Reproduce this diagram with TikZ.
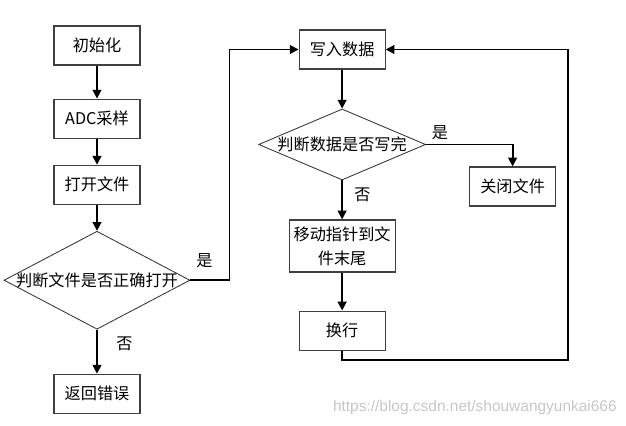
\documentclass[tikz,border=0pt]{standalone}
\usepackage{fontspec}
\setmainfont{Noto Sans CJK SC}
\newfontfamily\wmfont{Liberation Sans}
\usetikzlibrary{positioning,calc,arrows.meta,shapes.geometric}

\begin{document}
\begin{tikzpicture}[
        font=\fontsize{11.5}{17}\selectfont,
        >={Triangle[length=2.2mm,width=2.2mm]},
        box/.style={draw=black!75, line width=0.8pt, align=center, minimum width=21.5mm, minimum height=9.75mm, inner sep=1mm},
        cond/.style={draw=black!80, line width=0.6pt, diamond, inner xsep=-1.5mm, inner ysep=0pt, align=center},
        flow/.style={->, line width=1.3pt},
        lab/.style={inner sep=1pt}
    ]
        \useasboundingbox (0,0) rectangle (156.5mm,-106.25mm);

        % Left column
        \node[box] (init) at (24.25mm,-11.375mm) {初始化};
        \node[box, below=8.25mm of init] (adc) {ADC采样};
        \node[box, below=6.5mm of adc] (open) {打开文件};
        \node[cond, aspect=1.9, minimum width=46.5mm, minimum height=24.5mm, below=6.5mm of open] (chkopen) {判断文件是否正确打开};
        \node[box, below=11mm of chkopen] (err) {返回错误};

        % Right column
        \node[box, right=39.5mm of init, yshift=-1mm] (write) {写入数据};
        \node[cond, aspect=2.35, minimum width=41.75mm, minimum height=17.75mm, below=9.75mm of write] (chkdone) {判断数据是否写完};
        \node[box, right=10.75mm of chkdone, yshift=-10.5mm] (close) {关闭文件};
        \node[box, minimum width=26.5mm, minimum height=13mm, below=9.75mm of chkdone] (seek) {移动指针到文\\件末尾};
        \node[box, below=9.5mm of seek] (newline) {换行};

        % Arrows
        \draw[flow] (init) -- (adc);
        \draw[flow] (adc) -- (open);
        \draw[flow] (open) -- (chkopen);
        \draw[flow] (chkopen) -- node[lab, pos=0.32, right=4.25mm] {否} (err);
        \draw[flow] (chkopen.east) -- node[lab, pos=0.36, above=2.5mm] {是} ++(9.75mm,0) |- (write.west);
        \draw[flow] (write) -- (chkdone);
        \draw[flow] (chkdone) -- node[lab, pos=0.36, right=2.5mm] {否} (seek);
        \draw[flow] (chkdone.east) -| node[lab, pos=0.08, above=0.5mm] {是} (close.north);
        \draw[flow] (seek) -- (newline);
        \draw[flow] (newline.south) -- ++(0,-2.25mm) -| ([xshift=45.5mm]write.east) -- (write.east);

        % Watermark
        \node[font=\wmfont\fontsize{11}{13}\selectfont, text=black!22, anchor=east, inner sep=0pt] (mark) at (154.25mm,-101.75mm) {https://blog.csdn.net/shouwangyunkai666};
    \end{tikzpicture}
\end{document}
